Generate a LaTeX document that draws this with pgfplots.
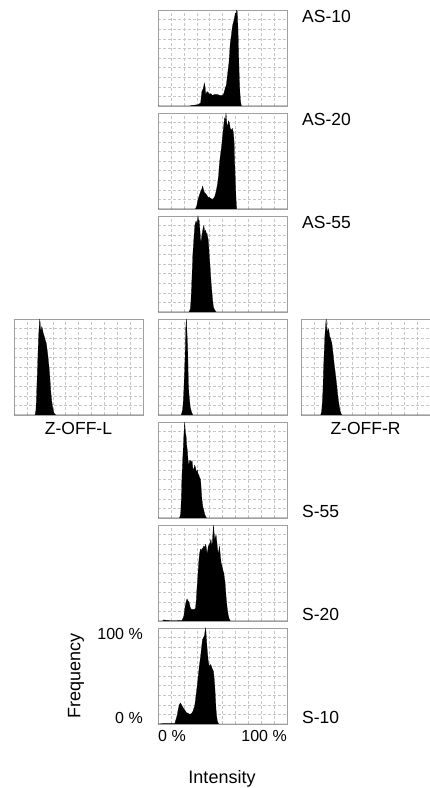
\documentclass[border=0pt]{standalone}
\usepackage{fontspec}
\setmainfont{Liberation Sans}
\usepackage{pgfplots}
\pgfplotsset{compat=1.18}

\pgfplotsset{
  panel/.style={
    scale only axis, anchor=south west,
    width=129bp, height=96bp,
    xmin=0, xmax=100, ymin=0, ymax=100,
    xtick={0,10,...,100}, ytick={0,10,...,100},
    xticklabels={}, yticklabels={},
    major tick length=0pt,
    grid=major,
    grid style={densely dashed, gray!45, line width=0.4pt},
    axis line style={gray!75, line width=0.7pt},
  },
  hist/.style={fill=black, draw=black, line width=0.2pt, mark=none},
}

% one histogram panel: #1 = x (bp), #2 = y (bp), #3 = coordinates
\newcommand\panel[3]{%
  \begin{axis}[panel, at={(#1bp,#2bp)}]
    \addplot[hist] coordinates {#3} \closedcycle;
  \end{axis}}

\begin{document}
\begin{tikzpicture}
\useasboundingbox (0,0) rectangle (430bp,788bp);

% AS-10
\panel{158}{682}{(0,0)(24,0)(26,0.5)(29,1)(31,1.5)(33,3)(34,15)(35,18)(36,24)(36.5,20)(37,12)(38,15)(39,14)(40,12)(41,13)(42,11)(44,12)(46,12)(48,11)(50,11)(51,13)(52,18)(53,22)(53.5,28)(54,34)(55,45)(56,65)(57,75)(57.4,80)(58,85)(58.7,88)(59.3,92)(60,97)(60.5,96)(61,100)(61.5,98)(62,80)(62.5,55)(63,30)(63.5,14)(64,5)(64.6,0)(100,0)}

% AS-20
\panel{158}{579}{(0,0)(29,0)(30,3)(31,10)(32,14)(33,18)(34,21)(34.6,24)(35.3,20)(36,17)(37,16)(38,14)(39,12)(40,12)(41,11)(42,10)(43,11)(44,13)(45,18)(46,25)(47,35)(47.5,45)(48,52)(49,62)(49.5,68)(50.4,80)(51,88)(51.7,95)(52.2,92)(52.7,100)(53.3,90)(54,85)(54.6,92)(55.3,90)(56,84)(57,82)(57.6,84)(58.4,80)(59,70)(59.4,50)(60,28)(60.5,10)(61,0)(100,0)}

% AS-55
\panel{158}{476}{(0,0)(24,0)(25,3)(25.5,10)(26,25)(26.5,42)(27,60)(28,80)(28.5,90)(29.5,95)(30.3,92)(31,100)(31.5,96)(32,95)(32.5,85)(33,75)(33.5,74)(34,80)(34.8,86)(35.5,90)(36.2,84)(37,85)(37.6,80)(38,82)(38.5,78)(39,75)(39.7,60)(40.5,45)(41.2,30)(42,18)(42.5,10)(43,5)(44,2)(45,0)(100,0)}

% Z-OFF-L
\panel{14}{373}{(0,0)(16.3,0)(17,5)(17.5,20)(18,40)(18.5,60)(19,80)(19.5,92)(20,100)(20.5,90)(21,88)(21.5,92)(22,90)(22.7,85)(23.5,82)(24.2,78)(25,75)(25.5,70)(26,65)(26.8,55)(27.5,45)(28,35)(28.5,25)(29.2,15)(30,8)(31,2)(32.4,0)(100,0)}

% centre
\panel{158}{373}{(0,0)(18,0)(19,5)(19.5,12)(20,25)(20.5,42)(21,60)(21.5,90)(22,100)(22.5,85)(23,70)(23.3,50)(23.5,35)(24,22)(24.5,15)(25,8)(26,3)(27,0)(100,0)}

% Z-OFF-R
\panel{301}{373}{(0,0)(15.3,0)(16,4)(16.4,10)(17,25)(17.4,45)(17.9,62)(18.4,80)(19,92)(19.5,100)(20,90)(20.5,85)(21,90)(21.6,88)(22.2,82)(22.9,80)(23.4,77)(23.9,75)(24.5,68)(25.2,60)(25.8,52)(26.5,45)(27.2,37)(27.8,30)(28.4,22)(29,15)(29.7,9)(30.4,4)(31,1.5)(31.7,0)(100,0)}

% S-55
\panel{158}{270}{(0,0)(16.5,0)(17.2,2)(17.6,5)(18.1,20)(18.6,45)(19.3,65)(20,85)(20.7,100)(21.2,90)(21.8,85)(22.3,75)(22.8,70)(23.3,60)(24,55)(24.5,60)(25,60)(25.7,58)(26.4,60)(27,52)(27.7,50)(28.3,55)(29,53)(29.7,48)(30.5,50)(31,46)(31.6,45)(32.3,42)(33,40)(33.5,30)(34,20)(34.7,12)(35.5,8)(36.2,4)(36.8,2)(37.5,0)(100,0)}

% S-20
\panel{158}{167}{(0,0)(3.5,0)(4.4,1.2)(6,0.8)(8.3,0.5)(10,0.3)(18.6,0.5)(20,5)(21,15)(22,21)(22.5,23)(23.2,21)(24,20)(25,14)(26,12)(27,12)(28,12)(29,13)(29.6,20)(30,30)(30.8,45)(31.5,60)(32.2,70)(33,75)(33.6,73)(34,75)(34.8,76)(35.5,78)(36.2,77)(37,80)(37.6,75)(38,70)(38.6,74)(39,78)(40,80)(41,85)(41.6,80)(42,80)(42.5,90)(43,100)(43.5,92)(44,85)(44.6,88)(45,90)(45.8,80)(46.6,70)(47.2,74)(47.7,78)(48.3,68)(49,60)(49.5,58)(50,55)(50.5,52)(51,50)(51.5,45)(52,40)(52.8,25)(53.5,15)(54.2,8)(55,3)(56,0)(100,0)}

% S-10
\panel{158}{64}{(0,0)(4,0.5)(10,0.5)(13,0.5)(14,5)(15,10)(15.6,15)(16.5,20)(17.4,22)(18.2,20)(19.5,17)(20.5,15)(22,12)(23.5,11)(24.7,10)(26,11)(27,13)(28,17)(28.6,20)(29.5,30)(30.4,40)(31.2,50)(32,60)(33,70)(33.8,80)(34.5,88)(35.3,90)(36,92)(36.5,97)(37,100)(37.5,90)(38,80)(38.5,72)(39,65)(39.5,62)(40,60)(40.7,62)(41.5,60)(42.2,57)(43,55)(43.5,48)(44,40)(44.5,28)(45,15)(45.5,8)(46,3)(47,0)(100,0)}

% panel names
\begin{scope}[every node/.style={inner sep=0pt, font=\fontsize{17.5bp}{20bp}\selectfont}]
  \node[anchor=north west] at (302bp,778bp) {AS-10};
  \node[anchor=north west] at (302bp,675bp) {AS-20};
  \node[anchor=north west] at (302bp,572bp) {AS-55};
  \node[anchor=base west] at (302bp,270bp) {S-55};
  \node[anchor=base west] at (302bp,167bp) {S-20};
  \node[anchor=base west] at (302bp,64bp) {S-10};
  \node[anchor=north] at (78.5bp,366bp) {Z-OFF-L};
  \node[anchor=north] at (365.5bp,366bp) {Z-OFF-R};
\end{scope}

% scale labels
\begin{scope}[every node/.style={inner sep=0pt, font=\fontsize{16bp}{19bp}\selectfont}]
  \node[anchor=north east] at (143bp,160bp) {100 \%};
  \node[anchor=base east] at (143bp,64bp) {0 \%};
  \node[anchor=north west] at (158bp,58bp) {0 \%};
  \node[anchor=north east] at (287bp,58bp) {100 \%};
\end{scope}
\begin{scope}[every node/.style={inner sep=0pt, font=\fontsize{18bp}{21bp}\selectfont}]
  \node[rotate=90] at (76bp,112bp) {Frequency};
  \node[anchor=base] at (222bp,5bp) {Intensity};
\end{scope}
\end{tikzpicture}
\end{document}
